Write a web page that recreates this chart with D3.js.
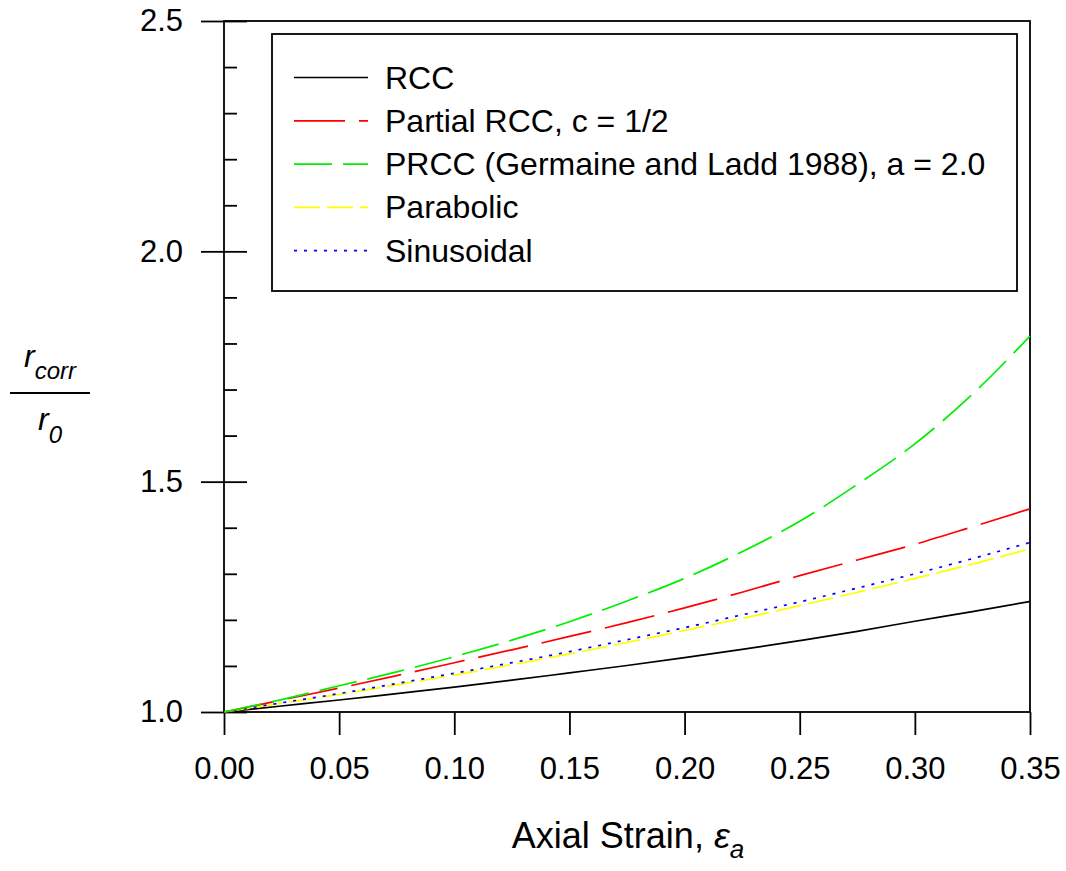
<!DOCTYPE html>
<html>
<head>
<meta charset="utf-8">
<script src="https://cdn.jsdelivr.net/npm/d3@7"></script>
<style>
  body { margin: 0; background: #fff; }
  svg { font-family: "Liberation Sans", Arial, sans-serif; }
  .axis text { font-size: 31px; fill: #000; }
  .axis line { stroke: #000; stroke-width: 1.8; }
</style>
</head>
<body>
<div id="chart"></div>
<script>
// strain values (x) and the five correction curves
var strain = [0, 0.025, 0.05, 0.075, 0.10, 0.125, 0.15, 0.175, 0.20, 0.225, 0.25, 0.275, 0.30, 0.325, 0.35];
var rcc        = [1.000, 1.013, 1.026, 1.040, 1.054, 1.069, 1.085, 1.101, 1.118, 1.136, 1.155, 1.175, 1.197, 1.218, 1.240];
var partialRcc = [1.000, 1.026, 1.052, 1.079, 1.107, 1.135, 1.164, 1.194, 1.226, 1.260, 1.296, 1.330, 1.364, 1.402, 1.441];
var prcc       = [1.000, 1.027, 1.057, 1.087, 1.120, 1.156, 1.196, 1.241, 1.290, 1.348, 1.414, 1.494, 1.582, 1.690, 1.816];
var parabolic  = [1.000, 1.019, 1.038, 1.059, 1.080, 1.103, 1.126, 1.151, 1.177, 1.203, 1.231, 1.260, 1.290, 1.321, 1.354];
var sinusoidal = [1.000, 1.020, 1.040, 1.062, 1.084, 1.107, 1.131, 1.157, 1.183, 1.211, 1.239, 1.269, 1.300, 1.333, 1.368];

var xTicks = [0, 0.05, 0.10, 0.15, 0.20, 0.25, 0.30, 0.35];
var yTicks = [1.0, 1.5, 2.0, 2.5];
var yMinorTicks = [1.1, 1.2, 1.3, 1.4, 1.6, 1.7, 1.8, 1.9, 2.1, 2.2, 2.3, 2.4];

var seriesNames = ["RCC", "Partial RCC, c = 1/2", "PRCC (Germaine and Ladd 1988), a = 2.0", "Parabolic", "Sinusoidal"];
var seriesData = [rcc, partialRcc, prcc, parabolic, sinusoidal];
var seriesColors = ["#000000", "#ff0000", "#00ee00", "#ffff00", "#0000ff"];
var seriesDash = [null, "51,14", "38,11", "26,7", "3,7"];

var width = 1066, height = 871;
var margin = { top: 21, left: 224, right: 36, bottom: 159 };
var plotW = width - margin.left - margin.right;
var plotH = height - margin.top - margin.bottom;

var svg = d3.select("#chart").append("svg")
    .attr("width", width)
    .attr("height", height);

var x = d3.scaleLinear().domain([0, 0.35]).range([margin.left, margin.left + plotW]);
var y = d3.scaleLinear().domain([1.0, 2.5]).range([margin.top + plotH, margin.top]);

// x axis
var xAxis = svg.append("g")
    .attr("class", "axis")
    .attr("transform", "translate(0," + (margin.top + plotH) + ")")
    .call(d3.axisBottom(x).tickValues(xTicks).tickSize(23).tickPadding(22).tickFormat(d3.format(".2f")));
xAxis.select(".domain").remove();

// y axis, major ticks outside with labels
var yAxis = svg.append("g")
    .attr("class", "axis")
    .attr("transform", "translate(" + margin.left + ",0)")
    .call(d3.axisLeft(y).tickValues(yTicks).tickSize(23).tickPadding(18).tickFormat(d3.format(".1f")));
yAxis.select(".domain").remove();

// major ticks inside
var yIn = svg.append("g")
    .attr("class", "axis")
    .attr("transform", "translate(" + margin.left + ",0)")
    .call(d3.axisRight(y).tickValues(yTicks).tickSize(23).tickFormat(""));
yIn.select(".domain").remove();

// minor ticks inside
var yMinor = svg.append("g")
    .attr("class", "axis")
    .attr("transform", "translate(" + margin.left + ",0)")
    .call(d3.axisRight(y).tickValues(yMinorTicks).tickSize(13).tickFormat(""));
yMinor.select(".domain").remove();

// frame
svg.append("rect")
    .attr("x", margin.left)
    .attr("y", margin.top)
    .attr("width", plotW)
    .attr("height", plotH)
    .attr("fill", "none")
    .attr("stroke", "#000")
    .attr("stroke-width", 1.8);

// curves
var line = d3.line()
    .x(function (d, i) { return x(strain[i]); })
    .y(function (d) { return y(d); })
    .curve(d3.curveMonotoneX);

var drawOrder = [0, 3, 4, 1, 2];
drawOrder.forEach(function (k) {
    svg.append("path")
        .datum(seriesData[k])
        .attr("d", line)
        .attr("fill", "none")
        .attr("stroke", seriesColors[k])
        .attr("stroke-width", 1.7)
        .attr("stroke-dasharray", seriesDash[k]);
});

// legend
var legend = svg.append("g");
legend.append("rect")
    .attr("x", 272).attr("y", 34)
    .attr("width", 745).attr("height", 257)
    .attr("fill", "#fff")
    .attr("stroke", "#000")
    .attr("stroke-width", 1.8);

seriesNames.forEach(function (name, i) {
    var ly = 77.5 + i * 43.3;
    legend.append("line")
        .attr("x1", 294).attr("x2", 368)
        .attr("y1", ly).attr("y2", ly)
        .attr("stroke", seriesColors[i])
        .attr("stroke-width", 1.7)
        .attr("stroke-dasharray", seriesDash[i]);
    legend.append("text")
        .attr("x", 385)
        .attr("y", ly + 11)
        .attr("font-size", 32)
        .text(name);
});

// x label
var xl = svg.append("text")
    .attr("x", 628)
    .attr("y", 848)
    .attr("text-anchor", "middle")
    .attr("font-size", 36);
xl.append("tspan").text("Axial Strain, ");
xl.append("tspan").attr("font-style", "italic").text("\u03b5");
xl.append("tspan").attr("font-style", "italic").attr("font-size", 26).attr("dy", 10).text("a");

// y label as a fraction
var yl = svg.append("g").attr("font-style", "italic");
var numer = yl.append("text").attr("x", 24).attr("y", 367).attr("font-size", 32);
numer.append("tspan").text("r");
numer.append("tspan").attr("font-size", 24).attr("dy", 12).text("corr");
yl.append("line")
    .attr("x1", 10).attr("x2", 90)
    .attr("y1", 393).attr("y2", 393)
    .attr("stroke", "#000").attr("stroke-width", 1.8);
var denom = yl.append("text").attr("x", 38).attr("y", 430).attr("font-size", 32);
denom.append("tspan").text("r");
denom.append("tspan").attr("font-size", 24).attr("dy", 13).text("0");
</script>
</body>
</html>
